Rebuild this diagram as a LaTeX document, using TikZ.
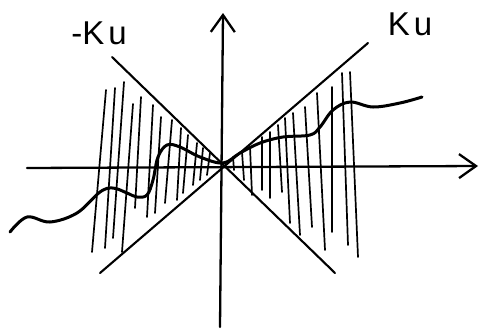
\documentclass[tikz,border=0pt]{standalone}
\usepackage{fontspec}
\setsansfont{Liberation Sans}
\usetikzlibrary{arrows.meta}
\tikzset{
	axis/.style={line width=2.3pt, -{Straight Barb[length=17pt,width=24pt,line width=2.3pt]}},
	cone/.style={line width=2.1pt},
	hatch/.style={line width=1.7pt},
	wave/.style={line width=3pt},
	lbl/.style={font=\fontsize{33}{35}\selectfont\sffamily}
}
\begin{document}
\begin{tikzpicture}[x=1pt,y=-1pt,line cap=round,line join=round]
		\useasboundingbox (0,0) rectangle (481,330);
		% axes
		\coordinate (o)  at (223,164);
		\coordinate (xl) at (27,168);
		\coordinate (xr) at (478,166);
		\coordinate (yb) at (220,327);
		\coordinate (yt) at (223,13);
		\draw[axis] (xl) -- (xr);
		\draw[axis] (yb) -- (yt);
		% the two lines through the origin
		\coordinate (kpl) at (100,273);
		\coordinate (kpr) at (368,43);
		\coordinate (knl) at (112,57);
		\coordinate (knr) at (335,273);
		\draw[cone] (kpl) -- (kpr);
		\draw[cone] (knl) -- (knr);
		\node[lbl] (kneg) at (99,33) {-K\kern4pt u};
		\node[lbl] (kpos) at (410,24) {K\kern4pt u};
		% hatching, left part
		\foreach \xa/\ya/\xb/\yb in {106/90/92/252, 115/88/105/248, 124/82/113/238,
			133/104/122/252, 141/97/135/208, 153/105/147/217, 161/117/155/213,
			172/120/165/203, 181/128/177/200, 188/135/183/193, 197/143/193/185,
			203/148/200/180, 210/153/207/175}
			\draw[hatch] (\xa,\ya) -- (\xb,\yb);
		% hatching, right part
		\foreach \xa/\ya/\xb/\yb in {233/157/234/170, 242/152/244/180,
			250/147/252/195, 262/137/262/190, 270/132/270/198, 278/125/282/192,
			285/118/290/223, 293/113/300/235, 305/107/312/227, 317/93/325/250,
			332/87/332/232, 342/73/348/245, 350/72/358/257}
			\draw[hatch] (\xa,\ya) -- (\xb,\yb);
		% the path
		\draw[wave] plot[smooth,tension=0.6] coordinates {(10,232) (27,217) (50,222)
			(77,213) (100,192) (113,188) (127,193) (137,197) (147,195) (153,180)
			(158,157) (167,145) (180,147) (200,157) (223,163) (240,153) (260,143)
			(283,137) (310,135) (320,127) (333,110) (350,102) (373,107) (400,103)
			(422,97)};
\end{tikzpicture}
\end{document}
